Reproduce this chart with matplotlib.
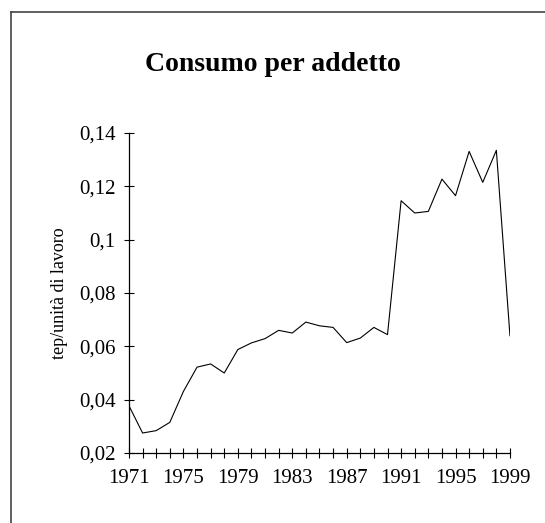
#!/usr/bin/env python3

import matplotlib
matplotlib.use('Agg')
import matplotlib.pyplot as plt
from matplotlib.lines import Line2D
from matplotlib.ticker import FuncFormatter, MultipleLocator

# Consumo per addetto (tep/unita di lavoro), 1971-1999
years = list(range(1971, 2000))
consumo = [0.0377, 0.0275, 0.0284, 0.0315, 0.0431, 0.0522, 0.0534, 0.0500,
           0.0588, 0.0613, 0.0629, 0.0660, 0.0650, 0.0691, 0.0677, 0.0671,
           0.0614, 0.0631, 0.0671, 0.0644, 0.1146, 0.1100, 0.1106, 0.1227,
           0.1165, 0.1331, 0.1215, 0.1335, 0.0640]
xtick_labels = [1971, 1975, 1979, 1983, 1987, 1991, 1995, 1999]
ytick_values = [0.02, 0.04, 0.06, 0.08, 0.10, 0.12, 0.14]

plt.rcParams['font.family'] = ['Liberation Serif', 'DejaVu Serif']

fig = plt.figure(figsize=(5.45, 5.23), dpi=100)
ax = fig.add_axes([0.2367, 0.1338, 0.699, 0.6119])

ax.plot(years, consumo, color='black', linewidth=0.8)

ax.set_xlim(1971, 1999)
ax.set_ylim(0.02, 0.14)
ax.set_yticks(ytick_values)
ax.yaxis.set_major_formatter(FuncFormatter(lambda v, p: f"{v:g}".replace('.', ',')))
ax.set_xticks(xtick_labels)
ax.xaxis.set_minor_locator(MultipleLocator(1))

for side in ['top', 'right']:
    ax.spines[side].set_visible(False)
for side in ['left', 'bottom']:
    ax.spines[side].set_linewidth(0.9)

ax.tick_params(axis='both', which='both', direction='inout', width=0.8,
               colors='black', labelsize=15)
ax.tick_params(axis='y', which='major', length=7, pad=6)
ax.tick_params(axis='x', which='major', length=7, pad=8)
ax.tick_params(axis='x', which='minor', length=7)

ax.set_ylabel('tep/unità di lavoro', fontsize=13, labelpad=8)

fig.text(0.5, 0.877, 'Consumo per addetto', ha='center', va='center',
         fontsize=20, fontweight='bold')

# frame lines on top and left of the page
fig.add_artist(Line2D([11 / 545, 11 / 545], [0, 1 - 12 / 523],
                      color='#444444', linewidth=1.2))
fig.add_artist(Line2D([11 / 545, 1], [1 - 12 / 523, 1 - 12 / 523],
                      color='#444444', linewidth=1.2))

plt.savefig('out.png', dpi=100)
